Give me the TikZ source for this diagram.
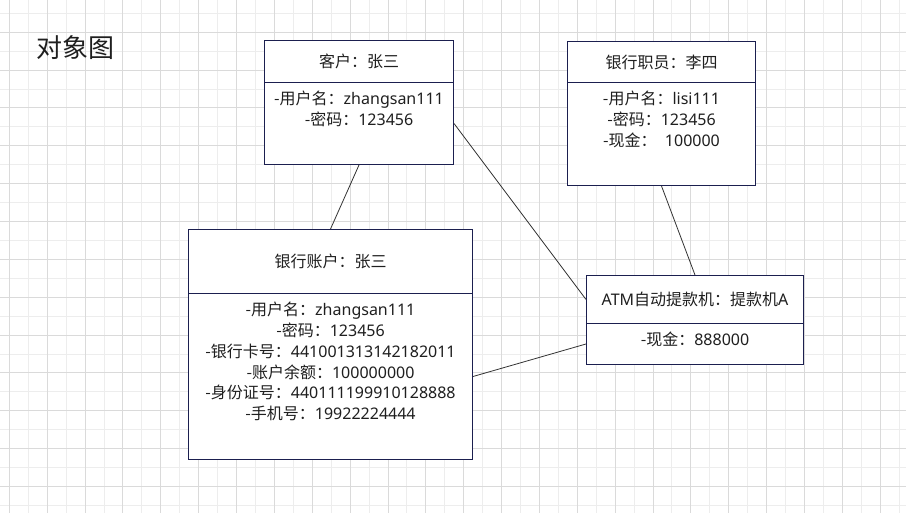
\documentclass[tikz,border=0pt]{standalone}
\usepackage{fontspec}
\setmainfont{Noto Sans CJK SC}
\newfontfamily\latfont{Noto Sans}
\newcommand\ltn[1]{{\latfont #1}}
\usepackage{tikz}
\usepackage{xcolor}
\usetikzlibrary{positioning}
\definecolor{boxline}{HTML}{1B1F4F}
\definecolor{txt}{HTML}{1F1F1F}
\definecolor{gridmin}{HTML}{EDEDED}
\definecolor{gridmaj}{HTML}{DADADA}
\definecolor{link}{HTML}{333333}

\begin{document}
\begin{tikzpicture}[x=1pt,y=-1pt,
  head/.style={draw=boxline,line width=1pt,fill=white,anchor=north west,inner sep=0,
    text=txt,font=\fontsize{16}{20.8}\selectfont},
  body/.style={draw=boxline,line width=1pt,fill=white,anchor=north west,inner sep=0},
  attr/.style={inner sep=0,align=center,text=txt,font=\fontsize{16}{20.8}\selectfont},
  link/.style={draw=link,line width=0.8pt}]
\useasboundingbox (0,0) rectangle (906,513);
\fill[white] (0,0) rectangle (906,513);
% grid
\foreach \i in {0,...,47} \draw[gridmin,line width=0.8pt] ({9.3+18.93*\i},0) -- ++(0,513);
\foreach \i in {0,...,26} \draw[gridmin,line width=0.8pt] (0,{13.2+18.93*\i}) -- ++(906,0);
\foreach \i in {0,2,...,46} \draw[gridmaj,line width=0.8pt] ({9.3+18.93*\i},0) -- ++(0,513);
\foreach \i in {1,3,...,25} \draw[gridmaj,line width=0.8pt] (0,{13.2+18.93*\i}) -- ++(906,0);

\node (title) at (75,48) [text=txt,font=\fontsize{26}{30}\selectfont]{对象图};

% customer
\node (kehuH) at (264,40) [head,minimum width=189pt,minimum height=42pt]{客户：张三};
\node (kehuB) at (264,82) [body,minimum width=189pt,minimum height=82pt]{};
\node (kehuT) [attr,below=9pt of kehuB.north]{-用户名：\ltn{zhangsan111}\\-密码：\ltn{123456}};

% clerk
\node (zhiyH) at (567,41) [head,minimum width=188pt,minimum height=41pt]{银行职员：李四};
\node (zhiyB) at (567,82) [body,minimum width=188pt,minimum height=103pt]{};
\node (zhiyT) [attr,below=9pt of zhiyB.north]{-用户名：\ltn{lisi111}\\-密码：\ltn{123456}\\-现金：\ltn{\ \ 100000}};

% account
\node (zhhuH) at (188,229) [head,minimum width=284pt,minimum height=64pt]{银行账户：张三};
\node (zhhuB) at (188,293) [body,minimum width=284pt,minimum height=166pt]{};
\node (zhhuT) [attr,below=9pt of zhhuB.north]{-用户名：\ltn{zhangsan111}\\-密码：\ltn{123456}\\
  -银行卡号：\ltn{441001313142182011}\\-账户余额：\ltn{100000000}\\
  -身份证号：\ltn{440111199910128888}\\-手机号：\ltn{19922224444}};

% atm
\node (atmH) at (586,275) [head,minimum width=217pt,minimum height=48pt]{\ltn{ATM}自动提款机：提款机\ltn{A}};
\node (atmB) at (586,323) [body,minimum width=217pt,minimum height=41pt]{};
\node (atmT) [attr,below=9pt of atmB.north]{-现金：\ltn{888000}};

% links
\draw[link] (kehuB.south) -- (zhhuH.north);
\draw[link] (kehuB.east) -- (atmH.west);
\draw[link] (zhiyB.south) -- (atmH.north);
\draw[link] (zhhuB.east) -- (atmB.west);
\end{tikzpicture}
\end{document}
